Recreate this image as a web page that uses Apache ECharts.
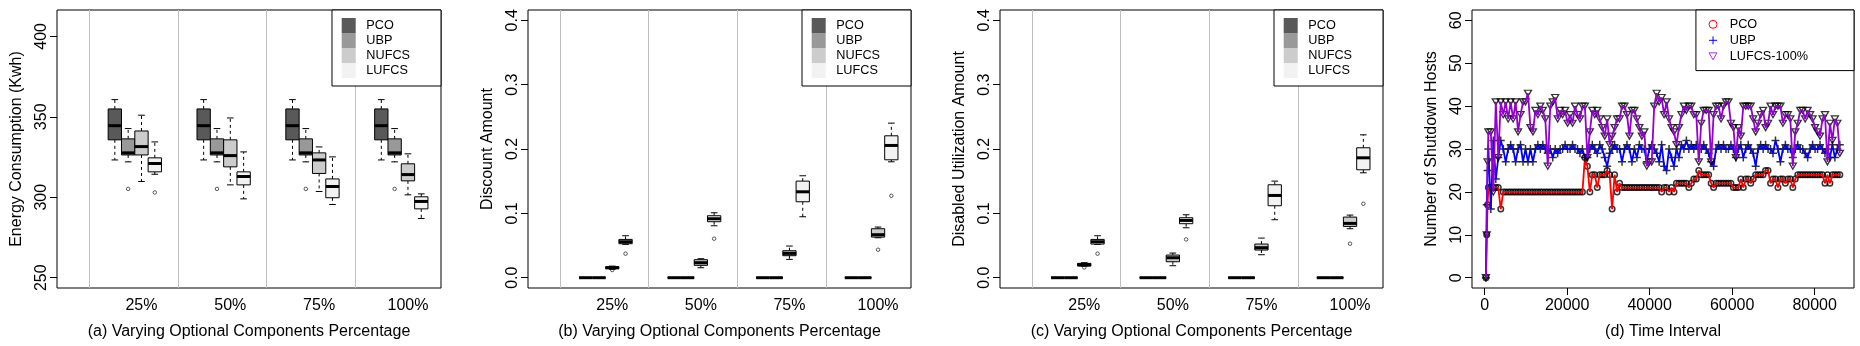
<!DOCTYPE html>
<html>
<head>
<meta charset="utf-8">
<script src="https://cdn.jsdelivr.net/npm/echarts@6/dist/echarts.min.js"></script>
<style>
  html, body { margin: 0; padding: 0; background: #fff; }
  #chart { width: 1860px; height: 346px; }
</style>
</head>
<body>
<div id="chart"></div>
<script>
// ---------------- data ----------------
const groupLabels = ['25%', '50%', '75%', '100%'];
const algorithms = ['PCO', 'UBP', 'NUFCS', 'LUFCS'];

// box stats, one row per group: [min, q1, median, q3, max]
const energyPCO = [
  [323.2, 335.7, 344.5, 354.9, 360.7],
  [323.2, 335.7, 344.5, 354.9, 360.7],
  [323.2, 335.7, 344.5, 354.9, 360.7],
  [323.2, 335.7, 344.5, 354.9, 360.7]
];
const energyUBP = [
  [322.0, 326.3, 327.6, 336.3, 342.7],
  [322.0, 326.3, 327.6, 336.3, 342.7],
  [322.0, 326.3, 327.6, 336.3, 342.7],
  [322.0, 326.3, 327.6, 336.3, 342.7]
];
const energyNUFCS = [
  [309.8, 326.3, 331.5, 341.2, 351.0],
  [307.7, 318.9, 325.9, 335.7, 349.3],
  [303.6, 314.8, 323.2, 327.6, 331.3],
  [301.5, 310.2, 314.1, 320.8, 327.0]
];
const energyLUFCS = [
  [314.3, 315.8, 321.0, 324.5, 334.4],
  [299.0, 307.7, 312.9, 315.8, 328.2],
  [295.5, 299.7, 306.7, 311.4, 325.1],
  [286.8, 292.8, 297.4, 300.3, 302.1]
];
// outliers: [algorithm index, group index, value]
const energyOutliers = [[1, 0, 305.2], [3, 0, 303.0], [1, 1, 305.2], [1, 2, 305.2], [1, 3, 305.2]];
const energyTicks = [250, 300, 350, 400];

const discountPCO = [[0, 0, 0, 0, 0], [0, 0, 0, 0, 0], [0, 0, 0, 0, 0], [0, 0, 0, 0, 0]];
const discountUBP = [[0, 0, 0, 0, 0], [0, 0, 0, 0, 0], [0, 0, 0, 0, 0], [0, 0, 0, 0, 0]];
const discountNUFCS = [
  [0.0130, 0.0140, 0.0155, 0.0171, 0.0180],
  [0.0155, 0.0192, 0.0233, 0.0280, 0.0295],
  [0.0285, 0.0342, 0.0378, 0.0419, 0.0492],
  [0.0621, 0.0631, 0.0668, 0.0761, 0.0787]
];
const discountLUFCS = [
  [0.0518, 0.0528, 0.0559, 0.0595, 0.0652],
  [0.0807, 0.0870, 0.0916, 0.0963, 0.1009],
  [0.0947, 0.1180, 0.1335, 0.1501, 0.1584],
  [0.1801, 0.1832, 0.2055, 0.2205, 0.2402]
];
const discountOutliers = [[2, 0, 0.0119], [3, 0, 0.0373], [3, 1, 0.0606], [2, 3, 0.0435], [3, 3, 0.1273]];

const disabledPCO = [[0, 0, 0, 0, 0], [0, 0, 0, 0, 0], [0, 0, 0, 0, 0], [0, 0, 0, 0, 0]];
const disabledUBP = [[0, 0, 0, 0, 0], [0, 0, 0, 0, 0], [0, 0, 0, 0, 0], [0, 0, 0, 0, 0]];
const disabledNUFCS = [
  [0.0181, 0.0181, 0.0202, 0.0223, 0.0233],
  [0.0186, 0.0248, 0.0310, 0.0352, 0.0383],
  [0.0357, 0.0430, 0.0466, 0.0523, 0.0616],
  [0.0761, 0.0797, 0.0844, 0.0942, 0.0973]
];
const disabledLUFCS = [
  [0.0518, 0.0523, 0.0559, 0.0595, 0.0652],
  [0.0776, 0.0839, 0.0890, 0.0932, 0.0978],
  [0.0901, 0.1118, 0.1278, 0.1444, 0.1501],
  [0.1630, 0.1677, 0.1863, 0.2019, 0.2220]
];
const disabledOutliers = [[2, 0, 0.0160], [3, 0, 0.0373], [3, 1, 0.0595], [2, 3, 0.0528], [3, 3, 0.1149]];
const fractionTicks = [0, 0.1, 0.2, 0.3, 0.4];

// panel (d): shutdown hosts over time
const hostSeriesNames = ['PCO', 'UBP', 'LUFCS-100%'];
const timeSteps = [
  300, 500, 700, 900, 1500, 2100, 2700, 3300, 3900, 4500, 5100, 5700, 6300, 6900,
  7500, 8100, 8700, 9300, 9900, 10500, 11100, 11700, 12300, 12900, 13500, 14100, 14700,
  15300, 15900, 16500, 17100, 17700, 18300, 18900, 19500, 20100, 20700, 21300, 21900,
  22500, 23100, 23700, 24300, 24900, 25500, 26100, 26700, 27300, 27900, 28500, 29100,
  29700, 30300, 30900, 31500, 32100, 32700, 33300, 33900, 34500, 35100, 35700, 36300,
  36900, 37500, 38100, 38700, 39300, 39900, 40500, 41100, 41700, 42300, 42900, 43500,
  44100, 44700, 45300, 45900, 46500, 47100, 47700, 48300, 48900, 49500, 50100, 50700,
  51300, 51900, 52500, 53100, 53700, 54300, 54900, 55500, 56100, 56700, 57300, 57900,
  58500, 59100, 59700, 60300, 60900, 61500, 62100, 62700, 63300, 63900, 64500, 65100,
  65700, 66300, 66900, 67500, 68100, 68700, 69300, 69900, 70500, 71100, 71700, 72300,
  72900, 73500, 74100, 74700, 75300, 75900, 76500, 77100, 77700, 78300, 78900, 79500,
  80100, 80700, 81300, 81900, 82500, 83100, 83700, 84300, 84900, 85500, 86100
];
const pcoHosts = [
  0, 10, 17, 21, 21, 21, 21, 21, 16,
  20, 20, 20, 20, 20, 20, 20, 20, 20, 20, 20, 20, 20, 20, 20, 20, 20,
  20, 20, 20, 20, 20, 20, 20, 20, 20, 20, 20, 20, 20, 20, 20, 20,
  28, 26, 20, 24, 24, 21, 24, 24, 24, 25, 24, 16, 24, 20, 22,
  21, 21, 21, 21, 21, 21, 21, 21, 21, 21, 21, 21, 21, 21, 21, 21,
  20, 21, 21, 20, 21, 20,
  22, 22, 22, 22, 22,
  21, 22, 23, 23, 25, 24, 24, 24, 24, 22, 21,
  22, 22, 22, 22, 22, 22, 22,
  21, 21, 21, 23, 21, 23, 23, 22, 23, 24, 24, 24, 24, 25, 25, 22, 23, 23, 21, 23, 23, 22, 23, 23, 21, 23,
  24, 24, 24, 24, 24, 24, 24, 24, 24, 24, 24,
  22, 24, 22,
  24, 24, 24, 24
];
const ubpHosts = [
  0, 17, 25,
  30, 16, 32, 23, 28, 32, 30, 27, 30, 31, 30, 27, 30, 31, 27, 30, 27, 30, 27, 30,
  31, 30, 31, 30, 29, 30, 28, 30, 29, 30, 30, 31, 30, 30, 31, 30, 30, 29, 30, 28,
  28, 30, 31, 30, 29, 31, 30, 28, 26, 29, 30, 31, 30, 30, 27, 30, 31, 30, 27, 30,
  28, 31, 30, 30, 27, 30, 31, 30, 29, 27, 31, 26, 25, 30, 28, 26, 30, 28, 31, 30,
  32, 30, 31, 30, 31, 30, 30, 31, 30, 29, 27, 26, 30, 31, 30, 31, 30, 30, 31, 30,
  28, 30, 31, 28, 30, 31, 30, 29, 26, 30, 31, 30, 31, 30, 30, 29, 32, 30, 27, 30,
  31, 30, 30, 28, 30, 31, 30, 30, 29, 28, 30, 31, 30, 30, 31, 30, 29, 30, 28, 31,
  28, 30, 31
];
const lufcsHosts = [
  0, 10, 27,
  34, 34, 20, 41, 28, 41, 38, 41, 37, 41, 37, 41, 34, 38, 41, 41, 43, 35, 34, 39,
  38, 40, 39, 37, 26, 40, 41, 42, 37, 39, 38, 39, 36,
  38, 36, 40, 38, 37, 40, 40, 28, 34, 39, 38, 39, 37, 35, 33, 37, 31, 33, 35, 37,
  37, 40, 40, 38, 33, 39, 39, 37, 35, 33, 34, 26, 27, 27, 40, 43,
  41, 42, 38, 41, 37, 35, 34, 31, 35, 38, 40, 39, 40, 40, 38, 38, 27, 36, 39, 39,
  39, 27, 38, 40, 40, 37, 40, 41, 41, 36, 35, 28, 35, 33, 40, 40,
  40, 40, 37, 34, 36, 38, 39, 35, 36, 40, 38, 40, 40, 40, 36, 38, 38, 37, 26, 34,
  36, 39, 39, 37, 39, 38, 37, 35, 34, 33, 37, 38, 27, 36, 32, 37, 36, 29
];
const hostTicks = [0, 10, 20, 30, 40, 50, 60];
const timeTicks = [0, 20000, 40000, 60000, 80000];

// ---------------- drawing ----------------
const FONT = '"Liberation Sans", Arial, Helvetica, sans-serif';
const BOX_STEP = 0.15;     // spacing of neighbouring boxes, axis units
const SEP_OFFSET = 0.593;  // grey separators sit this far left of each label
const boxFills = ['#595959', '#999999', '#cccccc', '#f2f2f2'];
const lineColors = ['#ff0000', '#0000ff', '#9400d3'];
const PLUS = 'path://M5,0L5,10M0,5L10,5';
const TRI = 'path://M0,0L10,0L5,8.66Z';
const hostSymbols = ['circle', PLUS, TRI];
const hostSymbolSizes = [5.5, 8, [7, 6]];
const hostStrokes = [1.5, 1.5, 1.3];

const boxPanels = [
  { stats: [energyPCO, energyUBP, energyNUFCS, energyLUFCS], outliers: energyOutliers,
    min: 243.6, max: 416.4, ticks: energyTicks, digits: 0,
    name: 'Energy Consumption (Kwh)', title: '(a) Varying Optional Components Percentage',
    left: 57, width: 384 },
  { stats: [discountPCO, discountUBP, discountNUFCS, discountLUFCS], outliers: discountOutliers,
    min: -0.016, max: 0.416, ticks: fractionTicks, digits: 1,
    name: 'Discount Amount', title: '(b) Varying Optional Components Percentage',
    left: 528, width: 383 },
  { stats: [disabledPCO, disabledUBP, disabledNUFCS, disabledLUFCS], outliers: disabledOutliers,
    min: -0.016, max: 0.416, ticks: fractionTicks, digits: 1,
    name: 'Disabled Utilization Amount', title: '(c) Varying Optional Components Percentage',
    left: 1000, width: 383 }
];

const boxX = (alg, group) => group + 1 + (alg - 2) * BOX_STEP;

function renderBox(params, api) {
  const x = api.value(0);
  const half = api.size([BOX_STEP, 0])[0] / 2;
  const cx = api.coord([x, api.value(1)])[0];
  const yMin = api.coord([x, api.value(1)])[1];
  const yQ1 = api.coord([x, api.value(2)])[1];
  const yMed = api.coord([x, api.value(3)])[1];
  const yQ3 = api.coord([x, api.value(4)])[1];
  const yMax = api.coord([x, api.value(5)])[1];
  const dash = { stroke: '#000', lineWidth: 1, lineDash: [3, 3] };
  const solid = { stroke: '#000', lineWidth: 1 };
  return {
    type: 'group',
    children: [
      { type: 'line', shape: { x1: cx, y1: yQ3, x2: cx, y2: yMax }, style: dash },
      { type: 'line', shape: { x1: cx, y1: yQ1, x2: cx, y2: yMin }, style: dash },
      { type: 'line', shape: { x1: cx - half / 2, y1: yMax, x2: cx + half / 2, y2: yMax }, style: solid },
      { type: 'line', shape: { x1: cx - half / 2, y1: yMin, x2: cx + half / 2, y2: yMin }, style: solid },
      { type: 'rect', shape: { x: cx - half, y: yQ3, width: half * 2, height: yQ1 - yQ3 },
        style: { fill: api.visual('color'), stroke: '#000', lineWidth: 1 } },
      { type: 'line', shape: { x1: cx - half, y1: yMed, x2: cx + half, y2: yMed },
        style: { stroke: '#000', lineWidth: 3 } }
    ]
  };
}

const textBase = { color: '#000', fontFamily: FONT, fontSize: 16 };
const grids = [], xAxes = [], yAxes = [], series = [], legends = [];

function yAxisFor(i, min, max, ticks, digits, name) {
  return {
    gridIndex: i, type: 'value', min: min, max: max,
    axisLine: { show: false, onZero: false },
    axisTick: { show: true, length: 7, customValues: ticks, lineStyle: { color: '#000' } },
    axisLabel: Object.assign({ customValues: ticks, rotate: 90, margin: 7,
      formatter: v => v.toFixed(digits) }, textBase),
    splitLine: { show: false },
    name: name, nameLocation: 'middle', nameGap: 32, nameTextStyle: textBase
  };
}

boxPanels.forEach((p, i) => {
  grids.push({ left: p.left, top: 10, width: p.width, height: 278, show: true,
    borderColor: '#000', borderWidth: 1, backgroundColor: 'transparent' });
  xAxes.push({
    gridIndex: i, type: 'value', min: 0.049, max: 4.372,
    axisLine: { show: false, onZero: false }, axisTick: { show: false }, splitLine: { show: false },
    axisLabel: Object.assign({ customValues: [1, 2, 3, 4], margin: 10,
      formatter: v => groupLabels[Math.round(v) - 1] }, textBase),
    name: p.title, nameLocation: 'middle', nameGap: 36, nameTextStyle: textBase
  });
  yAxes.push(yAxisFor(i, p.min, p.max, p.ticks, p.digits, p.name));

  algorithms.forEach((alg, j) => {
    series.push({
      name: alg, type: 'custom', xAxisIndex: i, yAxisIndex: i, silent: true,
      itemStyle: { color: boxFills[j] },
      encode: { x: 0, y: [1, 2, 3, 4, 5] },
      data: p.stats[j].map((s, g) => [boxX(j, g)].concat(s)),
      renderItem: renderBox
    });
  });
  series.push({
    type: 'scatter', xAxisIndex: i, yAxisIndex: i, silent: true,
    symbol: 'circle', symbolSize: 3.5,
    itemStyle: { color: 'rgba(0,0,0,0)', borderColor: '#000', borderWidth: 0.8 },
    data: p.outliers.map(o => [boxX(o[0], o[1]), o[2]]),
    markLine: {
      silent: true, symbol: ['none', 'none'], label: { show: false },
      lineStyle: { color: '#bebebe', width: 1, type: 'solid' },
      data: groupLabels.map((l, g) => ({ xAxis: g + 1 - SEP_OFFSET }))
    }
  });
  legends.push({
    orient: 'vertical', right: 1860 - (p.left + p.width), top: 10, z: 8,
    padding: [8, 31, 8, 9.7], itemWidth: 14, itemHeight: 15, itemGap: 0,
    borderColor: '#000', borderWidth: 1, backgroundColor: '#fff', selectedMode: false,
    textStyle: { color: '#000', fontFamily: FONT, fontSize: 12.7, lineHeight: 15, padding: [0, 0, 0, 5.6] },
    data: algorithms.map((alg, j) => ({ name: alg, icon: 'rect', itemStyle: { color: boxFills[j], borderWidth: 0 } }))
  });
});

// panel (d)
grids.push({ left: 1472, top: 10, width: 382, height: 278, show: true,
  borderColor: '#000', borderWidth: 1, backgroundColor: 'transparent' });
xAxes.push({
  gridIndex: 3, type: 'value', min: -3071, max: 89535,
  axisLine: { show: false, onZero: false },
  axisTick: { show: true, length: 7, customValues: timeTicks, lineStyle: { color: '#000' } },
  axisLabel: Object.assign({ customValues: timeTicks, margin: 10, formatter: v => String(v) }, textBase),
  splitLine: { show: false },
  name: '(d) Time Interval', nameLocation: 'middle', nameGap: 36, nameTextStyle: textBase
});
yAxes.push(yAxisFor(3, -2.4, 62.4, hostTicks, 0, 'Number of Shutdown Hosts'));

[pcoHosts, ubpHosts, lufcsHosts].forEach((vals, k) => {
  const pts = timeSteps.map((t, n) => [t, vals[n]]);
  series.push({
    name: hostSeriesNames[k], type: 'scatter', xAxisIndex: 3, yAxisIndex: 3, silent: true,
    z: 2 + k * 2, symbol: hostSymbols[k], symbolSize: hostSymbolSizes[k],
    itemStyle: { color: 'rgba(0,0,0,0)', borderColor: '#000', borderWidth: hostStrokes[k] },
    data: pts
  });
  series.push({
    name: hostSeriesNames[k], type: 'line', xAxisIndex: 3, yAxisIndex: 3, silent: true,
    z: 3 + k * 2, showSymbol: false, itemStyle: { color: lineColors[k] },
    lineStyle: { color: lineColors[k], width: 1.8 },
    data: pts
  });
});
legends.push({
  orient: 'vertical', right: 1860 - 1854, top: 10, z: 8,
  padding: [6.3, 46, 6.3, 12.6], itemWidth: 8, itemHeight: 8, itemGap: 0,
  borderColor: '#000', borderWidth: 1, backgroundColor: '#fff', selectedMode: false,
  textStyle: { color: '#000', fontFamily: FONT, fontSize: 12.7, lineHeight: 16, padding: [0, 0, 0, 7.7] },
  data: hostSeriesNames.map((n, k) => ({
    name: n, icon: hostSymbols[k],
    itemStyle: { color: 'rgba(0,0,0,0)', borderColor: lineColors[k], borderWidth: 1 }
  }))
});

const chart = echarts.init(document.getElementById('chart'), null, { renderer: 'canvas' });
chart.setOption({
  animation: false,
  backgroundColor: '#fff',
  grid: grids,
  xAxis: xAxes,
  yAxis: yAxes,
  legend: legends,
  series: series
});
</script>
</body>
</html>
